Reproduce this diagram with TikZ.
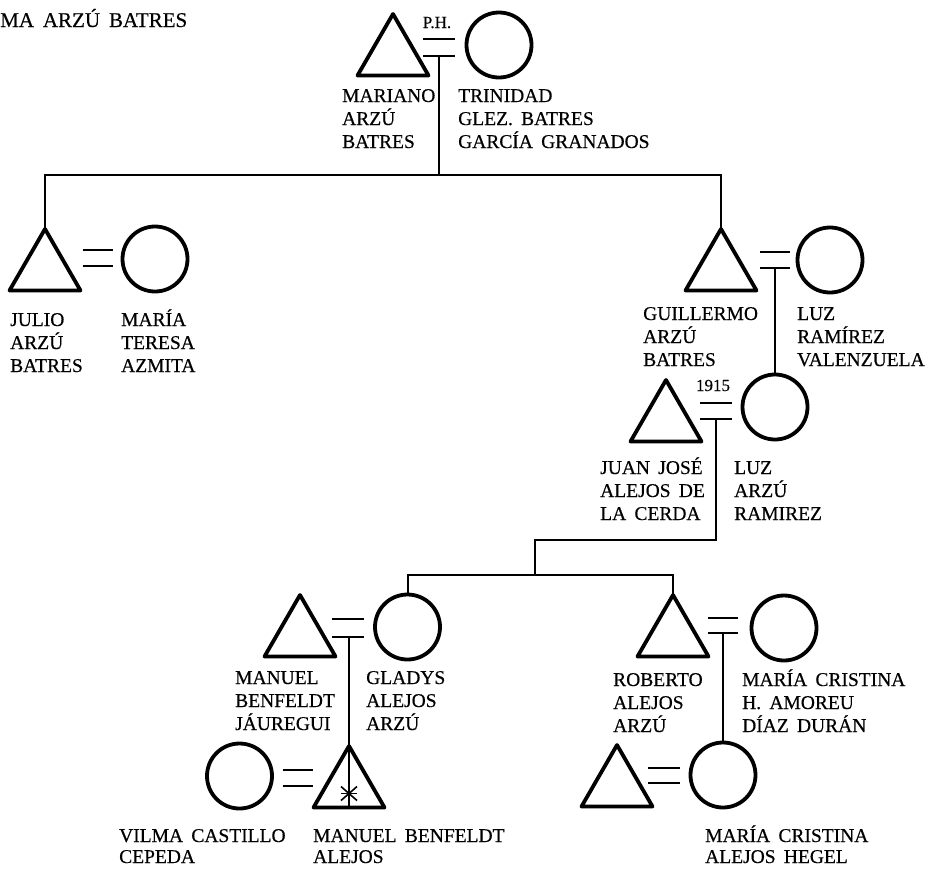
\documentclass[tikz,border=0pt]{standalone}
\usepackage{fontspec}
\setmainfont{Liberation Serif}[WordSpace=1.7, FakeBold=0.4]
\usetikzlibrary{shapes.geometric}

\newcommand{\lblfont}{\fontsize{19.5}{23}\selectfont}
\newcommand{\lowfont}{\fontsize{19.5}{21}\selectfont}
\newcommand{\smallfont}{\fontsize{17}{20}\selectfont}
\newcommand{\titlefont}{\fontsize{21}{24}\selectfont}

\tikzset{
  male/.style={regular polygon, regular polygon sides=3, draw, line width=3.8pt,
    line join=round, minimum size=82pt, inner sep=0pt, outer sep=0pt},
  female/.style={circle, draw, line width=3.8pt, minimum size=65pt,
    inner sep=0pt, outer sep=0pt},
  eqline/.style={line width=2.2pt},
  kin/.style={line width=2pt},
  starline/.style={line width=1.6pt},
  % multi-line labels are placed by the baseline of their last line
  lbl/.style={anchor=base west, inner sep=0pt, align=left, font=\lblfont},
  lowlbl/.style={lbl, font=\lowfont},
  note/.style={anchor=base, inner sep=0pt, font=\smallfont},
}

\begin{document}
\begin{tikzpicture}[x=1pt, y=-1pt]
\useasboundingbox[fill=white] (0,0) rectangle (926,868);

% heading
\node[anchor=base west, inner sep=0pt, font=\titlefont] (title) at (0,27) {MA ARZÚ BATRES};

% ---- first generation
\node[male]   (mariano)  at (393,55) {};
\node[female] (trinidad) at (499,45) {};
\coordinate (mA) at (439,56);
\draw[eqline] (mA) ++(-16,-17) -- ++(32,0);
\draw[eqline] (mA) ++(-16,0) -- ++(32,0);
\node[note] (ph) at (437,28) {P.H.};
\node[lbl] (marianoL)  at (342,148) {MARIANO\\ARZÚ\\BATRES};
\node[lbl] (trinidadL) at (458,148) {TRINIDAD\\GLEZ. BATRES\\GARCÍA GRANADOS};

% ---- second generation
\node[male]   (julio)     at (45,270) {};
\node[female] (mteresa)   at (155,259) {};
\coordinate (mB) at (98,266);
\draw[eqline] (mB) ++(-15,-16) -- ++(30,0);
\draw[eqline] (mB) ++(-15,0) -- ++(30,0);
\node[lbl] (julioL)   at (10,372)  {JULIO\\ARZÚ\\BATRES};
\node[lbl] (mteresaL) at (121,372) {MARÍA\\TERESA\\AZMITA};

\node[male]   (guillermo) at (721,270) {};
\node[female] (luzr)      at (830,260) {};
\coordinate (mC) at (775,268);
\draw[eqline] (mC) ++(-15,-16) -- ++(30,0);
\draw[eqline] (mC) ++(-15,0) -- ++(30,0);
\node[lbl] (guillermoL) at (643,366) {GUILLERMO\\ARZÚ\\BATRES};
\node[lbl] (luzrL)      at (797,366) {LUZ\\RAMÍREZ\\VALENZUELA};

\coordinate (barA) at (439,175);
\draw[kin] (mA) -- (barA);
\draw[kin] (julio.corner 1) |- (barA) -| (guillermo.corner 1);

% ---- third generation
\node[male]   (juanjose) at (666,421) {};
\node[female] (luza)     at (775,407) {};
\coordinate (mD) at (716,419);
\draw[eqline] (mD) ++(-16,-16) -- ++(32,0);
\draw[eqline] (mD) ++(-16,0) -- ++(32,0);
\node[note] (yr) at (713,391) {1915};
\node[lbl] (juanjoseL) at (600,520) {JUAN JOSÉ\\ALEJOS DE\\LA CERDA};
\node[lbl] (luzaL)     at (734,520) {LUZ\\ARZÚ\\RAMIREZ};

\draw[kin] (mC) -- (luza.north);

% ---- fourth generation
\node[male]   (manuel) at (300,636) {};
\node[female] (gladys) at (407.5,627) {};
\coordinate (mE) at (348,637);
\draw[eqline] (mE) ++(-16,-18) -- ++(32,0);
\draw[eqline] (mE) ++(-16,0) -- ++(32,0);
\node[lbl] (manuelL) at (235,730) {MANUEL\\BENFELDT\\JÁUREGUI};
\node[lbl] (gladysL) at (366,730) {GLADYS\\ALEJOS\\ARZÚ};

\node[male]   (roberto) at (673,636) {};
\node[female] (mcris)   at (784,628) {};
\coordinate (mF) at (723,633);
\draw[eqline] (mF) ++(-15,-15) -- ++(30,0);
\draw[eqline] (mF) ++(-15,0) -- ++(30,0);
\node[lbl] (robertoL) at (613,732) {ROBERTO\\ALEJOS\\ARZÚ};
\node[lbl] (mcrisL)   at (742,732) {MARÍA CRISTINA\\H. AMOREU\\DÍAZ DURÁN};

\coordinate (kD) at (535,540);
\coordinate (barD) at (535,575);
\draw[kin] (mD) |- (kD) -- (barD);
\draw[kin] (gladys.north) |- (barD) -| (roberto.corner 1);

% ---- fifth generation
\node[female] (vilma)  at (239.5,776) {};
\node[male]   (mbenf)  at (349,787) {};
\coordinate (mG) at (297.5,786);
\draw[eqline] (mG) ++(-15,-16) -- ++(30,0);
\draw[eqline] (mG) ++(-15,0) -- ++(30,0);
\node[lowlbl] (vilmaL) at (119,863) {VILMA CASTILLO\\CEPEDA};
\node[lowlbl] (mbenfL) at (313,863) {MANUEL BENFELDT\\ALEJOS};

\coordinate (mE') at (349,637);
\draw[kin] (mE') -- (mbenf.corner 1) -- (mbenf.side 2);
% asterisk marking the reference person
\path (mbenf.side 2) ++(0,-14) coordinate (ast);
\draw[starline] (ast) ++(-8,-7) -- ++(16,14);
\draw[starline] (ast) ++(8,-7) -- ++(-16,14);
\draw[starline] (ast) ++(-8,0) -- ++(16,0);

\node[male]   (hegel)  at (617,786) {};
\node[female] (mcrisa) at (723,775) {};
\coordinate (mH) at (664,783);
\draw[eqline] (mH) ++(-16,-15) -- ++(32,0);
\draw[eqline] (mH) ++(-16,0) -- ++(32,0);
\node[lowlbl] (mcrisaL) at (705,863) {MARÍA CRISTINA\\ALEJOS HEGEL};

\draw[kin] (mF) -- (mcrisa.north);
\end{tikzpicture}
\end{document}
